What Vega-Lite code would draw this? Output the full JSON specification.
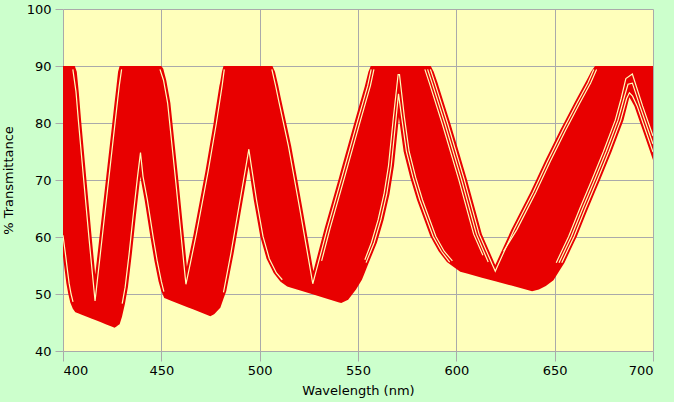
{
  "$schema": "https://vega.github.io/schema/vega-lite/v6.json",
  "width": 590,
  "height": 342,
  "autosize": {"type": "none"},
  "padding": {"left": 63, "top": 9, "right": 21, "bottom": 51},
  "background": "#ccffcc",
  "view": {"fill": "#ffffbb", "stroke": null},
  "config": {
    "font": "DejaVu Sans",
    "axis": {
      "grid": true, "gridColor": "#aaaaaa", "gridWidth": 1,
      "tickColor": "#aaaaaa", "domain": false,
      "labelFont": "DejaVu Sans", "labelFontSize": 13, "labelColor": "#000000",
      "titleFont": "DejaVu Sans", "titleFontSize": 13, "titleFontWeight": "normal", "titleColor": "#000000"
    }
  },
  "datasets": {
    "band": [
      {"w":400,"lo":56.6,"hi":90},{"w":401,"lo":53.8,"hi":90},{"w":401.7,"lo":51.9,"hi":90},{"w":402.7,"lo":50,"hi":90},
      {"w":403.7,"lo":48.5,"hi":90},{"w":405,"lo":47.4,"hi":90},{"w":406,"lo":46.94,"hi":90},{"w":406.3,"lo":46.8,"hi":89.7},
      {"w":407,"lo":46.7,"hi":89},{"w":408,"lo":46.57,"hi":85.5},{"w":409.2,"lo":46.41,"hi":80.5},{"w":411.8,"lo":46.05,"hi":70.5},
      {"w":414.7,"lo":45.66,"hi":59.5},{"w":416.4,"lo":45.43,"hi":53.4},{"w":419,"lo":45.08,"hi":61.4},{"w":422,"lo":44.67,"hi":70.6},
      {"w":425,"lo":44.26,"hi":79.8},{"w":426.2,"lo":44.1,"hi":83.5},{"w":427.2,"lo":44.3,"hi":86.5},{"w":428,"lo":44.5,"hi":89},
      {"w":428.8,"lo":44.7,"hi":90},{"w":430,"lo":46,"hi":90},{"w":431.5,"lo":48.3,"hi":90},{"w":433,"lo":51.2,"hi":90},
      {"w":435,"lo":57,"hi":90},{"w":437,"lo":63.5,"hi":90},{"w":439.3,"lo":70.6,"hi":90},{"w":441.5,"lo":66.5,"hi":90},
      {"w":444.4,"lo":60.1,"hi":90},{"w":446.5,"lo":55.8,"hi":90},{"w":448.6,"lo":52.2,"hi":90},{"w":450,"lo":50.5,"hi":90},
      {"w":451,"lo":49.7,"hi":89.5},{"w":451.5,"lo":49.3,"hi":88.8},{"w":452.5,"lo":49.16,"hi":87.5},{"w":454.6,"lo":48.88,"hi":83.5},
      {"w":458.8,"lo":48.3,"hi":69.5},{"w":463,"lo":47.73,"hi":54.8},{"w":466.4,"lo":47.26,"hi":60.5},{"w":472.4,"lo":46.44,"hi":71.5},
      {"w":474.9,"lo":46.1,"hi":76.6},{"w":476.6,"lo":46.42,"hi":80},{"w":477,"lo":46.5,"hi":81},{"w":479.5,"lo":47.42,"hi":86.5},
      {"w":480,"lo":47.6,"hi":87.3},{"w":480.8,"lo":48.37,"hi":89},{"w":481.6,"lo":49.15,"hi":90},{"w":483,"lo":50.5,"hi":90},
      {"w":486.7,"lo":57,"hi":90},{"w":490.1,"lo":63.8,"hi":90},{"w":494.4,"lo":72.4,"hi":90},{"w":497,"lo":66.5,"hi":90},
      {"w":500.3,"lo":60.1,"hi":90},{"w":503.5,"lo":56.2,"hi":90},{"w":506.5,"lo":54.12,"hi":90},{"w":507.1,"lo":53.7,"hi":89.5},
      {"w":507.8,"lo":53.39,"hi":89},{"w":509.5,"lo":52.64,"hi":86.5},{"w":510.5,"lo":52.2,"hi":84.8},{"w":511,"lo":52.07,"hi":84},
      {"w":514,"lo":51.3,"hi":79.2},{"w":516,"lo":51.09,"hi":76},{"w":521.5,"lo":50.51,"hi":65.5},{"w":527.3,"lo":49.9,"hi":54},
      {"w":533,"lo":49.3,"hi":61.5},{"w":540.4,"lo":48.52,"hi":70.5},{"w":541.5,"lo":48.4,"hi":71.9},{"w":545,"lo":49,"hi":76.2},
      {"w":548.5,"lo":50.58,"hi":80.5},{"w":549,"lo":50.8,"hi":81.1},{"w":552,"lo":52.5,"hi":84.7},{"w":553.5,"lo":53.79,"hi":86.5},
      {"w":555.3,"lo":55.33,"hi":89},{"w":556.5,"lo":56.35,"hi":90},{"w":559.6,"lo":59,"hi":90},{"w":563,"lo":63,"hi":90},
      {"w":566,"lo":67.5,"hi":90},{"w":568.3,"lo":72.5,"hi":90},{"w":570.8,"lo":81,"hi":90},{"w":573.2,"lo":75,"hi":90},
      {"w":576.5,"lo":70.5,"hi":90},{"w":580,"lo":66.5,"hi":90},{"w":586.8,"lo":60.1,"hi":90},{"w":587,"lo":59.99,"hi":90},
      {"w":588.5,"lo":59.05,"hi":89},{"w":590.5,"lo":57.81,"hi":87},{"w":591,"lo":57.5,"hi":86.45},{"w":595.2,"lo":55.6,"hi":81.86},
      {"w":596.9,"lo":55.18,"hi":80},{"w":602,"lo":53.9,"hi":74.06},{"w":605.4,"lo":53.58,"hi":70.1},{"w":613,"lo":52.87,"hi":60.5},
      {"w":619.8,"lo":52.24,"hi":55.1},{"w":628,"lo":51.48,"hi":61.3},{"w":637.6,"lo":50.58,"hi":67.8},{"w":638.5,"lo":50.5,"hi":68.47},
      {"w":642,"lo":50.8,"hi":71.07},{"w":645,"lo":51.31,"hi":73.3},{"w":645.5,"lo":51.4,"hi":73.65},{"w":649.4,"lo":52.4,"hi":76.37},
      {"w":652.9,"lo":54.34,"hi":78.8},{"w":655,"lo":55.5,"hi":80.19},{"w":660,"lo":59.15,"hi":83.5},{"w":661.3,"lo":60.1,"hi":84.33},
      {"w":665.5,"lo":63.71,"hi":87},{"w":667,"lo":65,"hi":88},{"w":668.5,"lo":66.23,"hi":89},{"w":670.5,"lo":67.88,"hi":90},
      {"w":673.2,"lo":70.1,"hi":90},{"w":679,"lo":75,"hi":90},{"w":685,"lo":80.5,"hi":90},{"w":688,"lo":84.5,"hi":90},
      {"w":690.5,"lo":83,"hi":90},{"w":695,"lo":78.5,"hi":90},{"w":700,"lo":73.5,"hi":90}
    ],
    "gaps": [
      {"g":1,"w":400,"t":60.3},{"g":1,"w":401.4,"t":56.6},{"g":1,"w":402.4,"t":53.8},{"g":1,"w":403.1,"t":51.9},{"g":1,"w":404.1,"t":50},{"g":1,"w":405.1,"t":48.6},
      {"g":2,"w":405,"t":89.4},{"g":2,"w":406.6,"t":85.5},{"g":2,"w":407.8,"t":80.5},{"g":2,"w":410.4,"t":70.5},{"g":2,"w":413.3,"t":59.5},{"g":2,"w":415,"t":53.4},{"g":2,"w":416.3,"t":48.8},{"g":2,"w":417.8,"t":53.4},{"g":2,"w":420.4,"t":61.4},{"g":2,"w":423.4,"t":70.6},{"g":2,"w":426.4,"t":79.8},{"g":2,"w":428.6,"t":86.5},{"g":2,"w":429.8,"t":89.4},
      {"g":3,"w":430.1,"t":48.3},{"g":3,"w":431.6,"t":51.2},{"g":3,"w":433.6,"t":57},{"g":3,"w":435.6,"t":63.5},{"g":3,"w":437.9,"t":70.6},{"g":3,"w":439.4,"t":74.8},{"g":3,"w":440.7,"t":70.6},{"g":3,"w":442.9,"t":66.5},{"g":3,"w":445.8,"t":60.1},{"g":3,"w":447.9,"t":55.8},{"g":3,"w":450,"t":52.2},{"g":3,"w":451.3,"t":50.4},
      {"g":4,"w":449.3,"t":89.4},{"g":4,"w":451.1,"t":87.5},{"g":4,"w":453.2,"t":83.5},{"g":4,"w":457.4,"t":69.5},{"g":4,"w":461.6,"t":54.8},{"g":4,"w":462.5,"t":51.7},{"g":4,"w":464.4,"t":54.8},{"g":4,"w":467.8,"t":60.5},{"g":4,"w":473.8,"t":71.5},{"g":4,"w":478,"t":80},{"g":4,"w":480.9,"t":86.5},{"g":4,"w":482,"t":89.4},
      {"g":5,"w":481.6,"t":50.3},{"g":5,"w":485.3,"t":57},{"g":5,"w":488.7,"t":63.8},{"g":5,"w":493,"t":72.4},{"g":5,"w":494.5,"t":75.4},{"g":5,"w":495.8,"t":72.4},{"g":5,"w":498.4,"t":66.5},{"g":5,"w":501.7,"t":60.1},{"g":5,"w":504.9,"t":56.2},{"g":5,"w":508.5,"t":53.7},{"g":5,"w":511.5,"t":52.5},
      {"g":6,"w":506.2,"t":89.4},{"g":6,"w":508.1,"t":86.5},{"g":6,"w":509.6,"t":84},{"g":6,"w":514.6,"t":76},{"g":6,"w":520.1,"t":65.5},{"g":6,"w":525.9,"t":54},{"g":6,"w":527,"t":51.8},{"g":6,"w":528.7,"t":54},{"g":6,"w":534.4,"t":61.5},{"g":6,"w":541.8,"t":70.5},{"g":6,"w":549.9,"t":80.5},{"g":6,"w":554.9,"t":86.5},{"g":6,"w":556.7,"t":89.4},
      {"g":7,"w":554.1,"t":55.5},{"g":7,"w":558.2,"t":59},{"g":7,"w":561.6,"t":63},{"g":7,"w":564.6,"t":67.5},{"g":7,"w":566.9,"t":72.5},{"g":7,"w":569.4,"t":81},{"g":7,"w":570.6,"t":85.1},{"g":7,"w":572.2,"t":81},{"g":7,"w":574.6,"t":75},{"g":7,"w":577.9,"t":70.5},{"g":7,"w":581.4,"t":66.5},{"g":7,"w":588.2,"t":60.1},{"g":7,"w":592.4,"t":57.5},{"g":7,"w":596.6,"t":55.6},
      {"g":8,"w":586.8,"t":89.4},{"g":8,"w":589.1,"t":87},{"g":8,"w":595.5,"t":80},{"g":8,"w":604,"t":70.1},{"g":8,"w":611.6,"t":60.5},{"g":8,"w":618.4,"t":55.1},{"g":8,"w":619.8,"t":54},{"g":8,"w":621.2,"t":55.1},{"g":8,"w":629.4,"t":61.3},{"g":8,"w":639,"t":67.8},{"g":8,"w":646.4,"t":73.3},{"g":8,"w":654.3,"t":78.8},{"g":8,"w":661.4,"t":83.5},{"g":8,"w":666.9,"t":87},{"g":8,"w":669.9,"t":89.4},
      {"g":9,"w":653.6,"t":55.5},{"g":9,"w":659.9,"t":60.1},{"g":9,"w":665.6,"t":65},{"g":9,"w":671.8,"t":70.1},{"g":9,"w":677.6,"t":75},{"g":9,"w":683.6,"t":80.5},{"g":9,"w":686.6,"t":84.3},{"g":9,"w":688,"t":85.3},{"g":9,"w":689.6,"t":84.7},{"g":9,"w":691.9,"t":83},{"g":9,"w":696.4,"t":78.5},{"g":9,"w":700,"t":74.9},
      {"g":10,"w":531.5,"t":55.8},{"g":10,"w":535.8,"t":61.5},{"g":10,"w":543.2,"t":70.5},{"g":10,"w":551.3,"t":80.5},{"g":10,"w":556.3,"t":86.5},{"g":10,"w":558.1,"t":89.4},
      {"g":11,"w":553.5,"t":56},{"g":11,"w":556.8,"t":59},{"g":11,"w":560.2,"t":63},{"g":11,"w":563.2,"t":67.5},{"g":11,"w":565.5,"t":72.5},{"g":11,"w":568,"t":81},{"g":11,"w":570.4,"t":88.5},{"g":11,"w":571.1,"t":88.5},{"g":11,"w":573.6,"t":81},{"g":11,"w":576,"t":75},{"g":11,"w":579.3,"t":70.5},{"g":11,"w":582.8,"t":66.5},{"g":11,"w":589.6,"t":60.1},{"g":11,"w":593.8,"t":57.5},{"g":11,"w":598,"t":55.8},
      {"g":13,"w":585.4,"t":89.4},{"g":13,"w":587.7,"t":87},{"g":13,"w":594.1,"t":80},{"g":13,"w":602.6,"t":70.1},{"g":13,"w":610.2,"t":60.5},{"g":13,"w":616.2,"t":55.6},
      {"g":14,"w":584,"t":89.4},{"g":14,"w":586.3,"t":87},{"g":14,"w":592.7,"t":80},{"g":14,"w":601.2,"t":70.1},{"g":14,"w":608.8,"t":60.5},{"g":14,"w":613.5,"t":56.8},
      {"g":15,"w":624,"t":57.5},{"g":15,"w":630.8,"t":61.3},{"g":15,"w":640.4,"t":67.8},{"g":15,"w":647.8,"t":73.3},{"g":15,"w":655.7,"t":78.8},{"g":15,"w":662.8,"t":83.5},{"g":15,"w":668.3,"t":87},{"g":15,"w":671.3,"t":89.4},
      {"g":16,"w":652.2,"t":55.5},{"g":16,"w":658.5,"t":60.1},{"g":16,"w":664.2,"t":65},{"g":16,"w":670.4,"t":70.1},{"g":16,"w":676.2,"t":75},{"g":16,"w":682.2,"t":80.5},{"g":16,"w":685.2,"t":84.3},{"g":16,"w":687.3,"t":86.8},{"g":16,"w":689.5,"t":87},{"g":16,"w":693.3,"t":83},{"g":16,"w":697.8,"t":78.5},{"g":16,"w":700,"t":76.3},
      {"g":17,"w":650.8,"t":55.5},{"g":17,"w":657.1,"t":60.1},{"g":17,"w":662.8,"t":65},{"g":17,"w":669,"t":70.1},{"g":17,"w":674.8,"t":75},{"g":17,"w":680.8,"t":80.5},{"g":17,"w":683.8,"t":84.3},{"g":17,"w":686.2,"t":87.8},{"g":17,"w":689.5,"t":88.6},{"g":17,"w":694.7,"t":83},{"g":17,"w":699.2,"t":78.5},{"g":17,"w":700,"t":77.7}
    ]
  },
  "encoding": {
    "x": {"type": "quantitative", "scale": {"domain": [400, 700], "nice": false},
          "axis": {"values": [400,450,500,550,600,650,700], "tickSize": 10, "labelPadding": 3, "title": "Wavelength (nm)", "titlePadding": 7}},
    "y": {"type": "quantitative", "scale": {"domain": [40, 100], "nice": false},
          "axis": {"values": [40,50,60,70,80,90,100], "tickSize": 8, "labelPadding": 4, "title": "% Transmittance", "titlePadding": 11}}
  },
  "layer": [
    {
      "mark": {"type": "rect", "color": "#a3a3a3", "x2Offset": 4, "yOffset": 5, "y2Offset": 5, "clip": false},
      "encoding": {"x": {"datum": 700}, "x2": {"datum": 700}, "y": {"datum": 100}, "y2": {"datum": 40}}
    },
    {
      "mark": {"type": "rect", "color": "#a3a3a3", "xOffset": 5, "x2Offset": 4, "y2Offset": 5, "clip": false},
      "encoding": {"x": {"datum": 400}, "x2": {"datum": 700}, "y": {"datum": 40}, "y2": {"datum": 40}}
    },
    {
      "data": {"name": "band"},
      "mark": {"type": "area", "color": "#e80000", "interpolate": "linear", "opacity": 1},
      "encoding": {
        "x": {"field": "w", "type": "quantitative"},
        "y": {"field": "lo", "type": "quantitative"},
        "y2": {"field": "hi"}
      }
    },
    {
      "data": {"name": "gaps"},
      "mark": {"type": "line", "color": "#ffffbb", "strokeWidth": 1.2, "clip": true, "interpolate": "linear"},
      "encoding": {
        "x": {"field": "w", "type": "quantitative"},
        "y": {"field": "t", "type": "quantitative"},
        "detail": {"field": "g"}
      }
    }
  ]
}
